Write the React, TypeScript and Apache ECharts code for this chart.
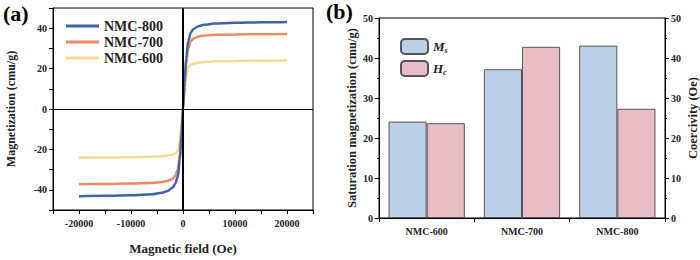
import React, { useEffect, useRef } from "react";
import * as echarts from "echarts";

const fieldOe = [-20000, -15000, -10000, -6000, -4000, -3000, -2000, -1500, -1000, -600, -300, 0, 300, 600, 1000, 1500, 2000, 3000, 4000, 6000, 10000, 15000, 20000];
const nmc800 = [-43.2, -43.0, -42.7, -42.2, -41.4, -40.6, -39.0, -37.0, -33.5, -25, -13, 0, 13, 25, 33.5, 37.8, 39.6, 41.0, 41.7, 42.3, 42.7, 42.9, 43.1];
const nmc700 = [-37.2, -37.1, -36.9, -36.6, -36.1, -35.6, -34.6, -33.2, -30, -22, -11, 0, 11, 22, 30, 33.5, 34.9, 35.9, 36.3, 36.7, 36.9, 37.0, 37.1];
const nmc600 = [-24.1, -24.0, -23.9, -23.7, -23.4, -23.1, -22.6, -22.0, -20.8, -16, -8, 0, 8, 16, 20.8, 21.9, 22.4, 23.0, 23.3, 23.6, 23.8, 23.9, 24.0];

const samples = ["NMC-600", "NMC-700", "NMC-800"];
const msValues = [24.1, 37.2, 43.1];
const hcValues = [23.7, 42.8, 27.3];

const FONT = "'Liberation Serif', 'Times New Roman', serif";

function pairs(xs: number[], ys: number[]) {
  return xs.map((x, i) => [x, ys[i]]);
}

export default function App() {
  const ref = useRef<HTMLDivElement>(null);
  useEffect(() => {
    document.body.style.margin = "0";
    if (!ref.current) return;
    const chart = echarts.init(ref.current, null, { renderer: "svg" });
    const lbl = { fontFamily: FONT, fontWeight: "bold" as const, fontSize: 10, color: "#222" };
    const axLine = { show: true, lineStyle: { color: "#000", width: 1 } };
    const tick = { show: true, length: 4, lineStyle: { color: "#000" } };
    const lineSeries = (name: string, data: number[], color: string, extra: any = {}) => ({
      type: "line",
      name,
      xAxisIndex: 0,
      yAxisIndex: 0,
      data: pairs(fieldOe, data),
      showSymbol: false,
      symbol: "none",
      smooth: 0.35,
      smoothMonotone: "x",
      lineStyle: { color, width: 2.5 },
      itemStyle: { color },
      ...extra,
    });
    chart.setOption({
      animation: false,
      backgroundColor: "#fff",
      textStyle: { fontFamily: FONT },
      grid: [
        { left: 53, top: 8, width: 260, height: 210, show: true, borderColor: "#000", borderWidth: 1, backgroundColor: "transparent" },
        { left: 379, top: 18, width: 287, height: 200, show: true, borderColor: "#000", borderWidth: 1, backgroundColor: "transparent" },
      ],
      graphic: [
        { type: "text", left: 3, top: 2, style: { text: "(a)", font: `bold 22px ${FONT}`, fill: "#000" } },
        { type: "text", left: 326, top: 0, style: { text: "(b)", font: `bold 22px ${FONT}`, fill: "#000" } },
      ],
      legend: [
        {
          data: ["NMC-800", "NMC-700", "NMC-600"],
          orient: "vertical",
          left: 61,
          top: 14,
          icon: "rect",
          itemWidth: 33,
          itemHeight: 3,
          itemGap: 2,
          textStyle: { fontFamily: FONT, fontWeight: "bold", fontSize: 14, color: "#222" },
        },
        {
          data: ["Ms", "Hc"],
          orient: "vertical",
          left: 395,
          top: 33,
          itemWidth: 27,
          itemHeight: 15,
          itemGap: 5,
          formatter: (n: string) => (n === "Ms" ? "{i|M}{s|s}" : "{i|H}{s|c}"),
          textStyle: {
            color: "#222",
            rich: {
              i: { fontFamily: FONT, fontStyle: "italic", fontWeight: "bold", fontSize: 13, color: "#222" },
              s: { fontFamily: FONT, fontStyle: "italic", fontWeight: "bold", fontSize: 8, color: "#222", padding: [7, 0, 0, 0] },
            },
          },
        },
      ],
      xAxis: [
        {
          type: "value",
          gridIndex: 0,
          min: -25000,
          max: 25000,
          interval: 5000,
          axisLine: { ...axLine, onZero: false },
          axisTick: tick,
          splitLine: { show: false },
          axisLabel: { ...lbl, margin: 8, formatter: (v: number) => (v % 10000 === 0 ? String(v) : "") },
          name: "Magnetic field (Oe)",
          nameLocation: "middle",
          nameGap: 32,
          nameTextStyle: { fontFamily: FONT, fontWeight: "bold", fontSize: 13, color: "#222" },
        },
        {
          type: "category",
          gridIndex: 1,
          data: samples,
          axisLine: axLine,
          axisTick: { ...tick, length: 4 },
          axisLabel: { ...lbl, margin: 8 },
        },
      ],
      yAxis: [
        {
          type: "value",
          gridIndex: 0,
          min: -50,
          max: 50,
          interval: 10,
          axisLine: { ...axLine, onZero: false },
          axisTick: tick,
          splitLine: { show: false },
          axisLabel: { ...lbl, margin: 6, formatter: (v: number) => (v % 20 === 0 ? String(v) : "") },
          name: "Magnetization (cmu/g)",
          nameLocation: "middle",
          nameGap: 36,
          nameTextStyle: { fontFamily: FONT, fontWeight: "bold", fontSize: 12, color: "#222" },
        },
        {
          type: "value",
          gridIndex: 1,
          position: "left",
          min: 0,
          max: 50,
          interval: 10,
          axisLine: axLine,
          axisTick: tick,
          minorTick: { show: true, splitNumber: 2, length: 2, lineStyle: { color: "#000" } },
          splitLine: { show: false },
          axisLabel: { ...lbl, margin: 6 },
          name: "Saturation magnetization (cmu/g)",
          nameLocation: "middle",
          nameGap: 21,
          nameTextStyle: { fontFamily: FONT, fontWeight: "bold", fontSize: 12.5, color: "#222" },
        },
        {
          type: "value",
          gridIndex: 1,
          position: "right",
          min: 0,
          max: 50,
          interval: 10,
          axisLine: axLine,
          axisTick: tick,
          minorTick: { show: true, splitNumber: 2, length: 2, lineStyle: { color: "#000" } },
          splitLine: { show: false },
          axisLabel: { ...lbl, margin: 6 },
          name: "Coercivity (Oe)",
          nameLocation: "middle",
          nameGap: 21,
          nameTextStyle: { fontFamily: FONT, fontWeight: "bold", fontSize: 12.5, color: "#222" },
        },
      ],
      series: [
        lineSeries("NMC-600", nmc600, "#f7db95", {
          markLine: {
            silent: true,
            symbol: "none",
            label: { show: false },
            data: [
              { yAxis: 0, lineStyle: { color: "#000", width: 1, type: "solid" } },
              { xAxis: 0, lineStyle: { color: "#000", width: 2, type: "solid" } },
            ],
          },
        }),
        lineSeries("NMC-700", nmc700, "#ee8b63"),
        lineSeries("NMC-800", nmc800, "#3f63a6"),
        {
          type: "bar",
          name: "Ms",
          xAxisIndex: 1,
          yAxisIndex: 1,
          data: msValues,
          barGap: "0%",
          barCategoryGap: "20%",
          itemStyle: { color: "#bccfe8", borderColor: "#555", borderWidth: 1 },
        },
        {
          type: "bar",
          name: "Hc",
          xAxisIndex: 1,
          yAxisIndex: 2,
          data: hcValues,
          barGap: "0%",
          barCategoryGap: "20%",
          itemStyle: { color: "#e8bdc6", borderColor: "#555", borderWidth: 1 },
        },
      ],
    });
    return () => chart.dispose();
  }, []);
  return <div ref={ref} style={{ width: 700, height: 260 }} />;
}
